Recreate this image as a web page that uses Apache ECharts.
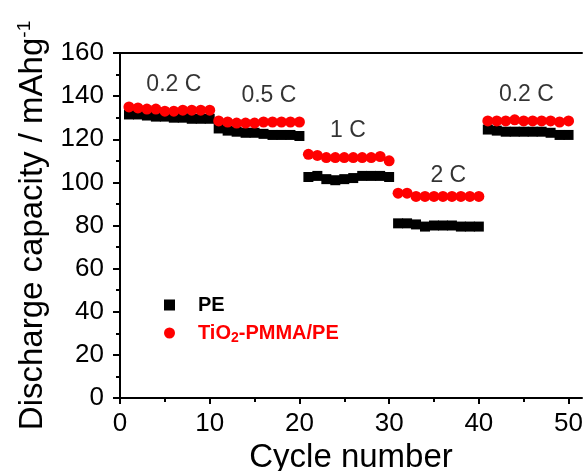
<!DOCTYPE html>
<html>
<head>
<meta charset="utf-8">
<script src="https://cdn.jsdelivr.net/npm/echarts@6/dist/echarts.min.js"></script>
<style>
  html, body { margin: 0; padding: 0; background: #fff; }
  #chart { width: 587px; height: 471px; }
</style>
</head>
<body>
<div id="chart"></div>
<script>
// cycle number 1..50
var cycles = [1, 2, 3, 4, 5, 6, 7, 8, 9, 10, 11, 12, 13, 14, 15, 16, 17, 18, 19, 20,
  21, 22, 23, 24, 25, 26, 27, 28, 29, 30, 31, 32, 33, 34, 35, 36, 37, 38, 39, 40,
  41, 42, 43, 44, 45, 46, 47, 48, 49, 50]

var pe = [131.5, 131.5, 131, 130.5, 130.5, 130, 130, 129.5, 129.5, 129.5,
  125, 124, 123.5, 123, 123, 122.5, 122, 122, 122, 121.5,
  102.5, 103, 101.5, 101, 101.5, 102, 103, 103, 103, 102.5,
  81, 81, 80.5, 79.5, 80, 80, 80, 79.5, 79.5, 79.5,
  124.5, 124, 123.5, 123.5, 123.5, 123.5, 123.5, 123, 122, 122]

var tio2 = [135, 134.5, 134, 134, 133, 133, 133.5, 133.5, 133.5, 133.5,
  128.5, 128, 127.5, 127.5, 127.5, 128, 128, 128, 128, 128,
  113, 112.5, 111.5, 111.5, 111.5, 111.5, 111.5, 111.5, 112, 110,
  95, 95, 93.5, 93.5, 93.5, 93.5, 93.5, 93.5, 93.5, 93.5,
  128.5, 128.5, 128.5, 129, 128.5, 128.5, 128.5, 128.5, 128, 128.5]

// C-rate annotations
var rateText = ['0.2 C', '0.5 C', '1 C', '2 C', '0.2 C']
var rateX = [6, 16.6, 25.4, 36.6, 45.3]
var rateY = [145.5, 140.4, 124.2, 103.2, 140.5]

var xMajor = [0, 10, 20, 30, 40, 50]
var xMinor = [5, 15, 25, 35, 45]

var chart = echarts.init(document.getElementById('chart'))

function pairs(xs, ys) {
  return xs.map(function (x, i) { return [x, ys[i]] })
}

var font = 'Liberation Sans, Arial, sans-serif'
var axisLine = { show: true, lineStyle: { color: '#000', width: 2 } }

var option = {
  animation: false,
  textStyle: { fontFamily: font },
  grid: { left: 120, right: 5, top: 53, bottom: 73, outerBoundsMode: 'none' },
  legend: {
    orient: 'vertical',
    left: 159,
    top: 290,
    itemWidth: 11,
    itemHeight: 11,
    itemGap: 8,
    data: ['PE', 'TiO2-PMMA/PE'],
    formatter: function (name) {
      if (name === 'PE') return '{b|PE}'
      return '{r0|TiO}{rs|2}{r|-PMMA/PE}'
    },
    textStyle: {
      rich: {
        b: { color: '#000', fontSize: 20, fontWeight: 'bold', fontFamily: font, padding: [0, 0, 0, 18] },
        r0: { color: '#ff0000', fontSize: 20, fontWeight: 'bold', fontFamily: font, padding: [0, 0, 0, 18] },
        r: { color: '#ff0000', fontSize: 20, fontWeight: 'bold', fontFamily: font },
        rs: { color: '#ff0000', fontSize: 14, fontWeight: 'bold', fontFamily: font, padding: [10, 0, 0, 0] }
      }
    }
  },
  xAxis: [
    {
      type: 'value', min: 0, max: 51.5, position: 'bottom',
      axisLine: axisLine,
      axisTick: { customValues: xMajor, length: 6, lineStyle: { color: '#000', width: 2 } },
      axisLabel: { customValues: xMajor, fontSize: 26, color: '#000', margin: 13 },
      splitLine: { show: false },
      name: 'Cycle number', nameLocation: 'middle', nameGap: 38,
      nameTextStyle: { fontSize: 33, color: '#000' }
    },
    {
      type: 'value', min: 0, max: 51.5, position: 'bottom',
      axisLine: { show: false },
      axisTick: { customValues: xMinor, length: 4, lineStyle: { color: '#000', width: 2 } },
      axisLabel: { show: false },
      splitLine: { show: false }
    },
    {
      type: 'value', min: 0, max: 51.5, position: 'top',
      axisLine: axisLine,
      axisTick: { show: false }, axisLabel: { show: false }, splitLine: { show: false }
    }
  ],
  yAxis: [
    {
      type: 'value', min: 0, max: 160, interval: 20, position: 'left',
      axisLine: axisLine,
      axisTick: { length: 7, lineStyle: { color: '#000', width: 2 } },
      minorTick: { show: true, splitNumber: 2, length: 4, lineStyle: { color: '#000', width: 2 } },
      axisLabel: { fontSize: 26, color: '#000', margin: 16 },
      splitLine: { show: false },
      name: '{n|Discharge capacity / mAhg}{s|-1}',
      nameLocation: 'middle', nameGap: 70,
      nameTextStyle: {
        rich: {
          n: { fontSize: 33, color: '#000', fontFamily: font },
          s: { fontSize: 19, color: '#000', fontFamily: font, padding: [0, 0, 16, 0] }
        }
      }
    },
    {
      type: 'value', min: 0, max: 160, position: 'right',
      axisLine: axisLine,
      axisTick: { show: false }, axisLabel: { show: false }, splitLine: { show: false }
    }
  ],
  series: [
    {
      name: 'PE', type: 'scatter', symbol: 'rect', symbolSize: 10,
      itemStyle: { color: '#000', opacity: 1 },
      data: pairs(cycles, pe)
    },
    {
      name: 'TiO2-PMMA/PE', type: 'scatter', symbol: 'circle', symbolSize: 11,
      itemStyle: { color: '#ff0000', opacity: 1 },
      data: pairs(cycles, tio2)
    },
    {
      name: 'rates', type: 'scatter', symbolSize: 0, silent: true,
      label: {
        show: true, position: 'inside', fontSize: 23, color: '#000',
        formatter: function (p) { return rateText[p.dataIndex] }
      },
      data: pairs(rateX, rateY)
    }
  ]
}

chart.setOption(option)
</script>
</body>
</html>
